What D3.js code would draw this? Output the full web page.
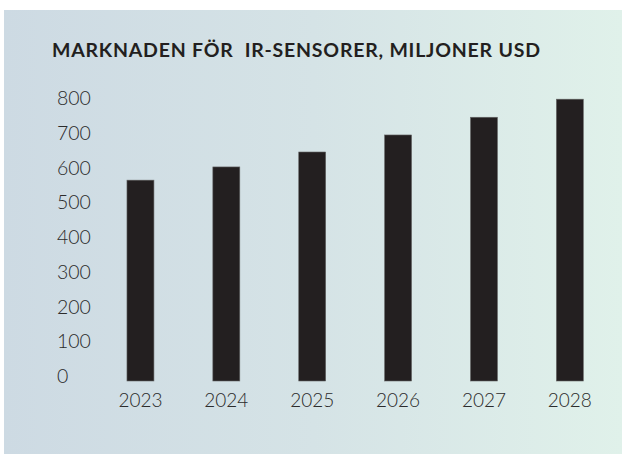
<!DOCTYPE html>
<html>
<head>
<meta charset="utf-8">
<script src="https://cdn.jsdelivr.net/npm/d3@7"></script>
<style>
  html, body { margin: 0; padding: 0; background: #ffffff; }
  svg { display: block; }
</style>
</head>
<body>
<div id="chart"></div>
<script>
/******************************************************
 * Bar chart: IR sensor market, million USD
 ******************************************************/

//! DATA
const YEARS = ["2023", "2024", "2025", "2026", "2027", "2028"];
const VALUES = [578, 616, 659, 708, 759, 811];
const Y_TICKS = [0, 100, 200, 300, 400, 500, 600, 700, 800];
const TITLE = "MARKNADEN FÖR  IR-SENSORER, MILJONER USD";

//! CONSTANTS
const WIDTH = 622;
const HEIGHT = 454;
const BAR_COLOR = "#231f20";
const TEXT_COLOR = "#2b2b2b";
const FONT = "Lato, 'Open Sans', sans-serif";

const svg = d3.select("#chart")
    .append("svg")
    .attr("width", WIDTH)
    .attr("height", HEIGHT);

// Background gradient panel
const grad = svg.append("defs").append("linearGradient")
    .attr("id", "bg")
    .attr("x1", "0%").attr("x2", "100%")
    .attr("y1", "0%").attr("y2", "0%");
grad.append("stop").attr("offset", "0%").attr("stop-color", "#cddae3");
grad.append("stop").attr("offset", "50%").attr("stop-color", "#d5e3e6");
grad.append("stop").attr("offset", "100%").attr("stop-color", "#e0f1ea");

svg.append("rect")
    .attr("x", 4)
    .attr("y", 10)
    .attr("width", WIDTH - 4)
    .attr("height", HEIGHT - 10)
    .attr("fill", "url(#bg)");

// Title (stretched to the reference width)
svg.append("text")
    .attr("x", 52)
    .attr("y", 57)
    .style("white-space", "pre")
    .attr("font-family", FONT)
    .attr("font-weight", 700)
    .attr("font-size", 19.5)
    .attr("textLength", 488)
    .attr("lengthAdjust", "spacing")
    .attr("fill", BAR_COLOR)
    .text(TITLE);

// Scales
const x = d3.scaleBand()
    .domain(YEARS)
    .range([101.2, 609.1])
    .paddingInner(0.686)
    .paddingOuter(0.3);

const y = d3.scaleLinear()
    .domain([0, 800])
    .range([381, 103]);

// Y axis labels (no line, no ticks)
const yAxis = d3.axisLeft(y)
    .tickValues(Y_TICKS)
    .tickSize(0)
    .tickPadding(0);

const gy = svg.append("g")
    .attr("transform", "translate(57,0)")
    .call(yAxis);
gy.select(".domain").remove();
gy.selectAll("text")
    .attr("x", 0)
    .attr("dy", "0.08em")
    .attr("text-anchor", "start")
    .attr("font-family", FONT)
    .attr("font-weight", 300)
    .attr("font-size", 19.5)
    .attr("fill", TEXT_COLOR);

// Bars
svg.selectAll("rect.bar")
    .data(YEARS)
    .enter().append("rect")
    .attr("class", "bar")
    .attr("x", d => x(d))
    .attr("width", x.bandwidth())
    .attr("y", (d, i) => y(VALUES[i]))
    .attr("height", (d, i) => y(0) - y(VALUES[i]))
    .attr("fill", BAR_COLOR)
    .attr("stroke", "#666666")
    .attr("stroke-width", 0.6);

// X axis labels
const xAxis = d3.axisBottom(x)
    .tickSize(0)
    .tickPadding(0);

const gx = svg.append("g")
    .attr("transform", "translate(0,407)")
    .call(xAxis);
gx.select(".domain").remove();
gx.selectAll("text")
    .attr("y", 0)
    .attr("dy", 0)
    .attr("font-family", FONT)
    .attr("font-weight", 300)
    .attr("font-size", 19)
    .attr("fill", TEXT_COLOR);
</script>
</body>
</html>
